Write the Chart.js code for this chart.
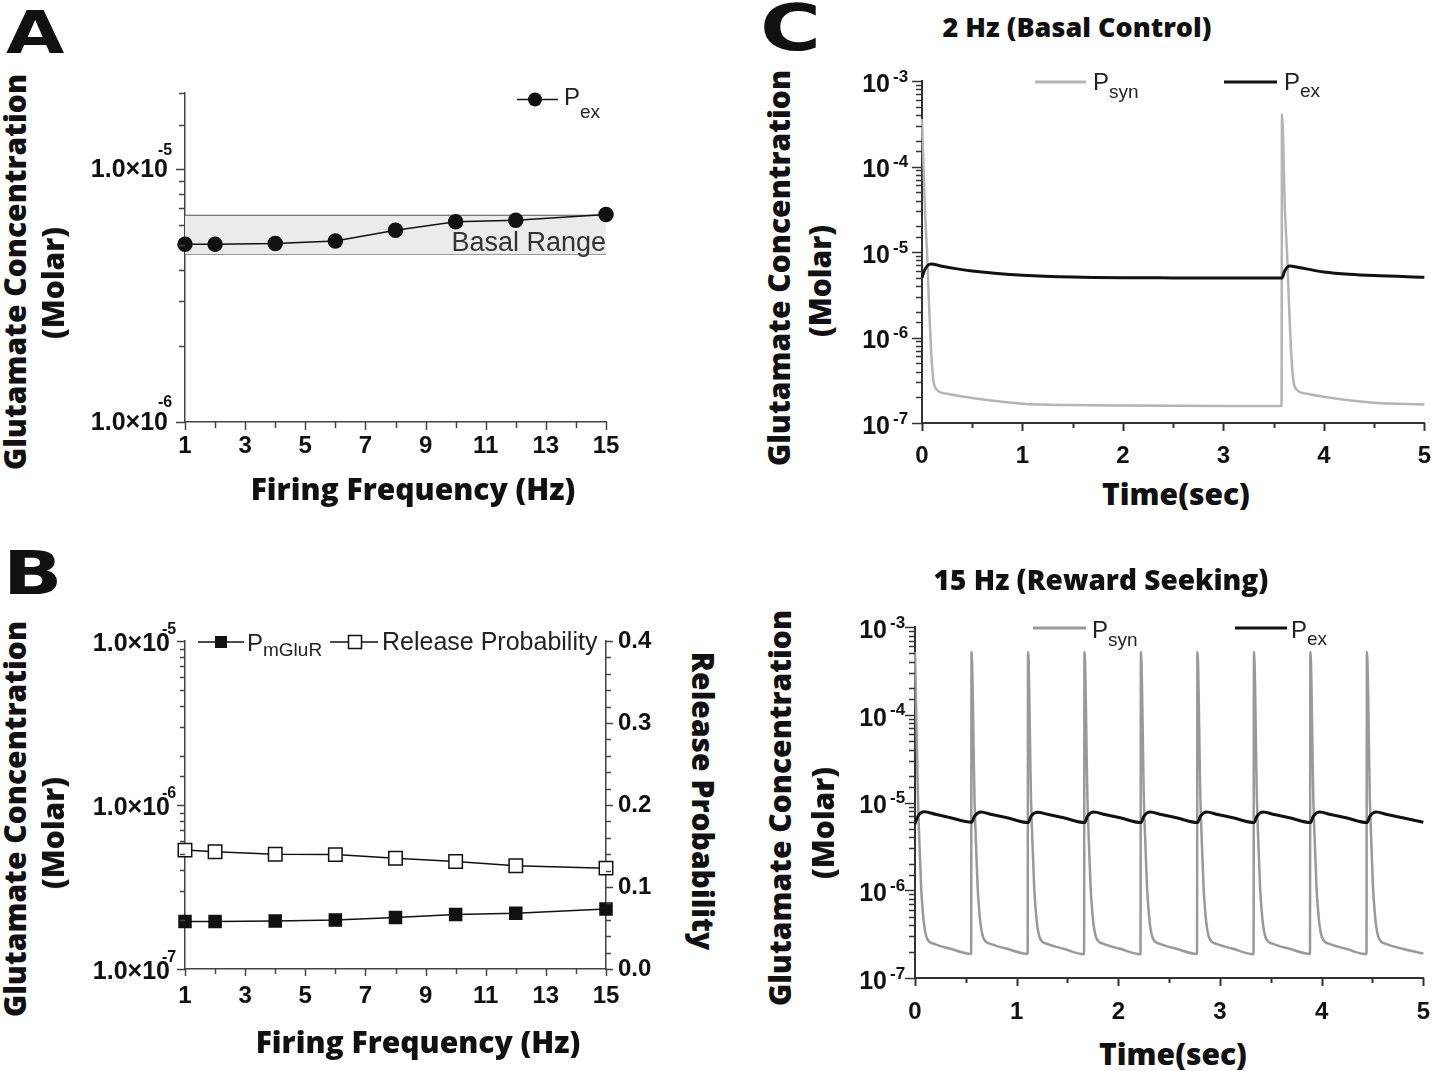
<!DOCTYPE html>
<html>
<head>
<meta charset="utf-8">
<title>Glutamate concentration panels</title>
<script src="https://cdn.jsdelivr.net/npm/chart.js@4.4.1/dist/chart.umd.min.js"></script>
<style>
  body { margin: 0; background: #fff; }
  #page { position: relative; width: 1450px; height: 1071px; overflow: hidden; background: #fff; color: #111; font-family: "Open Sans", sans-serif; }
  canvas { position: absolute; }
  .t { position: absolute; white-space: nowrap; line-height: 1; font-weight: 800; }
  .hc { transform: translateX(-50%); }
  .vl { transform: translate(-50%, -50%) rotate(-90deg); }
  .vr { transform: translate(-50%, -50%) rotate(90deg); }
  .letter { position: absolute; line-height: 1; font-family: "DejaVu Sans", sans-serif; font-weight: 700; transform: scaleX(1.3); transform-origin: left top; }
  .lg { position: absolute; white-space: nowrap; line-height: 1; font-family: "Liberation Sans", Arial, sans-serif; color: #222; }
  .lg sub { line-height: 1; }
  svg { position: absolute; overflow: visible; }
</style>
</head>
<body>
<div id="page">
  <canvas id="chartA" width="580" height="420" style="left:60px;top:60px;width:580px;height:420px"></canvas>
  <canvas id="chartB" width="620" height="420" style="left:60px;top:610px;width:620px;height:420px"></canvas>
  <canvas id="chartC1" width="610" height="420" style="left:840px;top:50px;width:610px;height:420px"></canvas>
  <canvas id="chartC2" width="610" height="430" style="left:840px;top:595px;width:610px;height:430px"></canvas>

  <!-- panel letters -->
  <div class="letter" style="left:6px;top:4px;font-size:58px">A</div>
  <div class="letter" style="left:3px;top:543px;font-size:60px">B</div>
  <div class="letter" style="left:760px;top:-4px;font-size:64px">C</div>

  <!-- titles -->
  <div class="t hc" style="left:1077px;top:13px;font-size:27px">2 Hz (Basal Control)</div>
  <div class="t hc" style="left:1101px;top:565px;font-size:28px">15 Hz (Reward Seeking)</div>

  <!-- axis titles -->
  <div class="t hc" style="left:413px;top:474px;font-size:30px">Firing Frequency (Hz)</div>
  <div class="t hc" style="left:418px;top:1027px;font-size:30px">Firing Frequency (Hz)</div>
  <div class="t hc" style="left:1176px;top:479px;font-size:30px">Time(sec)</div>
  <div class="t hc" style="left:1173px;top:1039px;font-size:30px">Time(sec)</div>

  <div class="t vl" style="left:15px;top:272px;font-size:30px">Glutamate Concentration</div>
  <div class="t vl" style="left:53px;top:283px;font-size:30px">(Molar)</div>
  <div class="t vl" style="left:15px;top:819px;font-size:30px">Glutamate Concentration</div>
  <div class="t vl" style="left:53px;top:833px;font-size:30px">(Molar)</div>
  <div class="t vr" style="left:703px;top:801px;font-size:30px">Release Probability</div>
  <div class="t vl" style="left:779px;top:268px;font-size:30px">Glutamate Concentration</div>
  <div class="t vl" style="left:820px;top:281px;font-size:30px">(Molar)</div>
  <div class="t vl" style="left:780px;top:808px;font-size:30px">Glutamate Concentration</div>
  <div class="t vl" style="left:823px;top:823px;font-size:30px">(Molar)</div>

  <!-- panel A legend and band label -->
  <svg style="left:512px;top:90px" width="50" height="20">
    <line x1="5" y1="9.5" x2="46" y2="9.5" stroke="#111" stroke-width="1.5"/>
    <circle cx="23" cy="9.5" r="7" fill="#111"/>
  </svg>
  <div class="lg" style="left:564px;top:85px;font-size:24px">P<sub style="font-size:19px;vertical-align:-13px">ex</sub></div>
  <div class="lg" style="left:606px;top:229px;font-size:27px;color:#333;transform:translateX(-100%)">Basal Range</div>

  <!-- panel B legend -->
  <svg style="left:195px;top:632px" width="190" height="20">
    <line x1="3" y1="10" x2="49" y2="10" stroke="#111" stroke-width="1.5"/>
    <rect x="20" y="4" width="12" height="12" fill="#111"/>
    <line x1="135" y1="10" x2="183" y2="10" stroke="#111" stroke-width="1.5"/>
    <rect x="153.5" y="3.5" width="13" height="13" fill="#fff" stroke="#111" stroke-width="1.5"/>
  </svg>
  <div class="lg" style="left:247px;top:631px;font-size:24px">P<sub style="font-size:19px;vertical-align:-5px">mGluR</sub></div>
  <div class="lg" style="left:382px;top:629px;font-size:25px">Release Probability</div>

  <!-- panel C legends -->
  <svg style="left:1030px;top:72px" width="260" height="20">
    <line x1="5" y1="10" x2="56" y2="10" stroke="#b4b4b4" stroke-width="3"/>
    <line x1="194" y1="10" x2="247" y2="10" stroke="#111" stroke-width="3"/>
  </svg>
  <div class="lg" style="left:1093px;top:70px;font-size:24px">P<sub style="font-size:19px;vertical-align:-8px">syn</sub></div>
  <div class="lg" style="left:1284px;top:70px;font-size:24px">P<sub style="font-size:19px;vertical-align:-7px">ex</sub></div>

  <svg style="left:1030px;top:618px" width="260" height="20">
    <line x1="3" y1="10" x2="56" y2="10" stroke="#999" stroke-width="3"/>
    <line x1="205" y1="10" x2="257" y2="10" stroke="#111" stroke-width="3"/>
  </svg>
  <div class="lg" style="left:1092px;top:618px;font-size:24px">P<sub style="font-size:19px;vertical-align:-8px">syn</sub></div>
  <div class="lg" style="left:1291px;top:618px;font-size:24px">P<sub style="font-size:19px;vertical-align:-7px">ex</sub></div>
</div>

<script>
// ---- Panel A: P_ex vs firing frequency ----
const freqA = [1, 2, 4, 6, 8, 10, 12, 15];
const pexA = [5.05e-6, 5.05e-6, 5.08e-6, 5.2e-6, 5.73e-6, 6.19e-6, 6.28e-6, 6.61e-6];
const basalX = [1, 15];
const basalLow = [4.61e-6, 4.61e-6];
const basalHigh = [6.57e-6, 6.57e-6];

// ---- Panel B: P_mGluR and release probability ----
const freqB = [1, 2, 4, 6, 8, 10, 12, 15];
const pmglurB = [1.95e-7, 1.95e-7, 1.96e-7, 1.99e-7, 2.06e-7, 2.15e-7, 2.19e-7, 2.32e-7];
const releaseB = [0.145, 0.143, 0.140, 0.1395, 0.135, 0.131, 0.126, 0.123];

// ---- Panel C top: 2 Hz traces ----
const synTopT = [0, 0.03, 0.05, 0.068, 0.09, 0.113, 0.14, 0.25, 0.5, 1.0, 1.5, 2.0, 3.0, 3.579,
  3.583, 3.613, 3.633, 3.651, 3.673, 3.696, 3.723, 3.833, 4.083, 4.5, 5.0];
const synTop = [3.6e-4, 3.0e-5, 1.0e-5, 2.8e-6, 7.2e-7, 3.2e-7, 2.5e-7, 2.2e-7, 1.96e-7, 1.68e-7, 1.62e-7, 1.6e-7, 1.58e-7, 1.58e-7,
  4.1e-4, 3.0e-5, 1.0e-5, 2.8e-6, 7.2e-7, 3.2e-7, 2.5e-7, 2.2e-7, 1.96e-7, 1.72e-7, 1.65e-7];
const exTopT = [0, 0.03, 0.09, 0.2, 0.35, 0.5, 0.75, 1.0, 1.5, 2.0, 2.5, 3.0, 3.583,
  3.61, 3.66, 3.75, 3.9, 4.0, 4.25, 4.5, 5.0];
const exTop = [5.0e-6, 6.3e-6, 7.25e-6, 6.8e-6, 6.35e-6, 6.0e-6, 5.6e-6, 5.35e-6, 5.1e-6, 5.0e-6, 4.98e-6, 4.97e-6, 4.97e-6,
  6.0e-6, 6.85e-6, 6.6e-6, 6.1e-6, 5.85e-6, 5.5e-6, 5.3e-6, 5.08e-6];

// ---- Panel C bottom: 15 Hz traces ----
const synBotT = [
  0, 0.03, 0.04, 0.06, 0.075, 0.09, 0.11, 0.14, 0.2, 0.35, 0.552,
  0.556, 0.586, 0.596, 0.616, 0.631, 0.646, 0.666, 0.696, 0.756, 0.906, 1.108,
  1.112, 1.142, 1.152, 1.172, 1.187, 1.202, 1.222, 1.252, 1.312, 1.462, 1.663,
  1.667, 1.697, 1.707, 1.727, 1.742, 1.757, 1.777, 1.807, 1.867, 2.017, 2.218,
  2.222, 2.252, 2.262, 2.282, 2.297, 2.312, 2.332, 2.362, 2.422, 2.572, 2.774,
  2.778, 2.808, 2.818, 2.838, 2.853, 2.868, 2.888, 2.918, 2.978, 3.128, 3.33,
  3.334, 3.364, 3.374, 3.394, 3.409, 3.424, 3.444, 3.474, 3.534, 3.684, 3.885,
  3.889, 3.919, 3.929, 3.949, 3.964, 3.979, 3.999, 4.029, 4.089, 4.239, 4.441,
  4.445, 4.475, 4.485, 4.505, 4.52, 4.535, 4.555, 4.585, 4.645, 4.795, 5.0
];
const synBot = [
  5.2e-4, 1.0e-5, 4.5e-6, 1.1e-6, 6.0e-7, 4.0e-7, 3.0e-7, 2.6e-7, 2.42e-7, 2.15e-7, 1.88e-7,
  5.2e-4, 1.0e-5, 4.5e-6, 1.1e-6, 6.0e-7, 4.0e-7, 3.0e-7, 2.6e-7, 2.42e-7, 2.15e-7, 1.88e-7,
  5.2e-4, 1.0e-5, 4.5e-6, 1.1e-6, 6.0e-7, 4.0e-7, 3.0e-7, 2.6e-7, 2.42e-7, 2.15e-7, 1.87e-7,
  5.2e-4, 1.0e-5, 4.5e-6, 1.1e-6, 6.0e-7, 4.0e-7, 3.0e-7, 2.6e-7, 2.42e-7, 2.15e-7, 1.87e-7,
  5.2e-4, 1.0e-5, 4.5e-6, 1.1e-6, 6.0e-7, 4.0e-7, 3.0e-7, 2.6e-7, 2.42e-7, 2.15e-7, 1.88e-7,
  5.2e-4, 1.0e-5, 4.5e-6, 1.1e-6, 6.0e-7, 4.0e-7, 3.0e-7, 2.6e-7, 2.42e-7, 2.15e-7, 1.87e-7,
  5.2e-4, 1.0e-5, 4.5e-6, 1.1e-6, 6.0e-7, 4.0e-7, 3.0e-7, 2.6e-7, 2.42e-7, 2.15e-7, 1.88e-7,
  5.2e-4, 1.0e-5, 4.5e-6, 1.1e-6, 6.0e-7, 4.0e-7, 3.0e-7, 2.6e-7, 2.42e-7, 2.15e-7, 1.87e-7,
  5.2e-4, 1.0e-5, 4.5e-6, 1.1e-6, 6.0e-7, 4.0e-7, 3.0e-7, 2.6e-7, 2.42e-7, 2.15e-7, 1.9e-7
];
const exBotT = [
  0, 0.03, 0.09, 0.2, 0.35,
  0.556, 0.586, 0.646, 0.756, 0.906,
  1.112, 1.142, 1.202, 1.312, 1.462,
  1.667, 1.697, 1.757, 1.867, 2.017,
  2.222, 2.252, 2.312, 2.422, 2.572,
  2.778, 2.808, 2.868, 2.978, 3.128,
  3.334, 3.364, 3.424, 3.534, 3.684,
  3.889, 3.919, 3.979, 4.089, 4.239,
  4.445, 4.475, 4.535, 4.645, 4.795, 5.0
];
const exBot = [
  5.7e-6, 7.0e-6, 7.85e-6, 7.35e-6, 6.7e-6,
  5.95e-6, 7.0e-6, 7.8e-6, 7.3e-6, 6.7e-6,
  5.9e-6, 7.0e-6, 7.75e-6, 7.3e-6, 6.7e-6,
  5.9e-6, 7.0e-6, 7.8e-6, 7.3e-6, 6.7e-6,
  5.9e-6, 7.0e-6, 7.8e-6, 7.3e-6, 6.7e-6,
  5.9e-6, 7.0e-6, 7.8e-6, 7.3e-6, 6.7e-6,
  5.9e-6, 7.0e-6, 7.8e-6, 7.3e-6, 6.7e-6,
  5.9e-6, 7.0e-6, 7.8e-6, 7.3e-6, 6.7e-6,
  5.9e-6, 7.0e-6, 7.8e-6, 7.3e-6, 6.7e-6, 5.95e-6
];

// tick labels
const freqLabels = [1, 3, 5, 7, 9, 11, 13, 15];
const timeLabels = [0, 1, 2, 3, 4, 5];
const releaseLabels = [0, 0.1, 0.2, 0.3, 0.4];
const logLabelsA = [1e-6, 1e-5];
const logLabelsB = [1e-7, 1e-6, 1e-5];
const logLabelsC = [1e-7, 1e-6, 1e-5, 1e-4, 1e-3];

const pts = (xs, ys) => xs.map((x, i) => ({ x: x, y: ys[i] }));
const near = (list, v) => list.some(l => Math.abs(l - v) < 1e-6);
const isPow10 = v => Math.abs(Math.log10(v) - Math.round(Math.log10(v))) < 1e-6;
const tickFont = { family: 'Liberation Sans', weight: 'bold', size: 24 };

// Tick marks (long/short) and log labels with superscripts
const axisMarks = {
  id: 'axisMarks',
  afterDraw(chart, args, opts) {
    const ctx = chart.ctx;
    (opts.axes || []).forEach(m => {
      const s = chart.scales[m.id];
      ctx.save();
      ctx.strokeStyle = m.color;
      ctx.lineWidth = m.width;
      s.ticks.forEach(t => {
        const len = m.major(t.value) ? m.long : m.short;
        const p = Math.round(s.getPixelForValue(t.value)) + 0.5;
        ctx.beginPath();
        if (m.side === 'left') {
          ctx.moveTo(s.right, p); ctx.lineTo(s.right - len, p);
        } else if (m.side === 'right') {
          ctx.moveTo(s.left, p); ctx.lineTo(s.left + len, p);
        } else {
          ctx.moveTo(p, s.top); ctx.lineTo(p, s.top + len);
        }
        ctx.stroke();
      });
      if (m.powers) {
        ctx.fillStyle = '#111';
        ctx.textBaseline = 'middle';
        m.powers.forEach(v => {
          const p = s.getPixelForValue(v);
          const xr = s.right - m.baseGap;
          ctx.font = m.baseFont;
          ctx.textAlign = 'right';
          ctx.fillText(m.base, xr, p + m.baseDy);
          ctx.font = m.supFont;
          ctx.textAlign = 'left';
          ctx.fillText(String(Math.round(Math.log10(v))), xr + m.supDx, p + m.supDy);
        });
      }
      ctx.restore();
    });
  }
};
Chart.register(axisMarks);

function xAxis(min, max, step, labels, height, pad, color, bw) {
  return {
    type: 'linear', position: 'bottom', min: min, max: max,
    afterFit: s => { s.height = height; },
    ticks: {
      stepSize: step, autoSkip: false, maxRotation: 0, minRotation: 0, maxTicksLimit: 100,
      padding: pad, color: '#111', font: tickFont,
      callback: v => near(labels, v) ? String(Math.round(v)) : ''
    },
    grid: { display: false, drawTicks: false },
    border: { display: true, color: color, width: bw }
  };
}

function logAxis(min, max, width, color, bw) {
  return {
    type: 'logarithmic', position: 'left', min: min, max: max,
    afterFit: s => { s.width = width; },
    ticks: { display: false, autoSkip: false },
    grid: { display: false, drawTicks: false },
    border: { display: true, color: color, width: bw }
  };
}

function baseOptions(pad, scales, axes) {
  return {
    responsive: false, animation: false, events: [],
    layout: { padding: pad, autoPadding: false },
    plugins: { legend: { display: false }, tooltip: { enabled: false }, axisMarks: { axes: axes } },
    scales: scales
  };
}

// Panel A
new Chart(document.getElementById('chartA'), {
  type: 'line',
  data: {
    datasets: [
      { data: pts(freqA, pexA), borderColor: '#111', borderWidth: 1.5, tension: 0,
        pointStyle: 'circle', pointRadius: 7, pointBackgroundColor: '#111', pointBorderColor: '#111',
        clip: false, order: 0 },
      { data: pts(basalX, basalHigh), borderColor: '#555', borderWidth: 1.2, pointRadius: 0,
        fill: '+1', backgroundColor: '#ebebeb', order: 1 },
      { data: pts(basalX, basalLow), borderColor: '#555', borderWidth: 1.2, pointRadius: 0,
        fill: false, order: 2 }
    ]
  },
  options: baseOptions({ top: 33, right: 34, left: 0, bottom: 0 }, {
    x: xAxis(1, 15, 1, freqLabels, 58, 10, '#444', 1.5),
    y: logAxis(1e-6, 2e-5, 125, '#444', 1.5)
  }, [
    { id: 'x', side: 'bottom', long: 8, short: 6, color: '#444', width: 1.5, major: v => near(freqLabels, v) },
    { id: 'y', side: 'left', long: 9, short: 6, color: '#444', width: 1.5, major: isPow10,
      powers: logLabelsA, base: '1.0×10', baseFont: 'bold 25px "Liberation Sans"', supFont: 'bold 16px "Liberation Sans"',
      baseGap: 17, supDx: -10, supDy: -19, baseDy: 1 }
  ])
});

// Panel B
new Chart(document.getElementById('chartB'), {
  type: 'line',
  data: {
    datasets: [
      { data: pts(freqB, pmglurB), yAxisID: 'y', borderColor: '#111', borderWidth: 1.5, tension: 0,
        pointStyle: 'rect', pointRadius: 8.5, pointBackgroundColor: '#111', pointBorderColor: '#111', clip: false },
      { data: pts(freqB, releaseB), yAxisID: 'y2', borderColor: '#111', borderWidth: 1.5, tension: 0,
        pointStyle: 'rect', pointRadius: 9.5, pointBackgroundColor: '#fff', pointBorderColor: '#111',
        pointBorderWidth: 1.5, clip: false }
    ]
  },
  options: baseOptions({ top: 31, right: 0, left: 0, bottom: 0 }, {
    x: xAxis(1, 15, 1, freqLabels, 61, 13, '#444', 1.5),
    y: logAxis(1e-7, 1e-5, 125, '#444', 1.5),
    y2: {
      type: 'linear', position: 'right', min: 0, max: 0.4,
      afterFit: s => { s.width = 74; },
      ticks: { stepSize: 0.02, autoSkip: false, maxTicksLimit: 100, padding: 12, color: '#111', font: tickFont,
        callback: v => near(releaseLabels, v) ? v.toFixed(1) : '' },
      grid: { display: false, drawTicks: false },
      border: { display: true, color: '#444', width: 1.5 }
    }
  }, [
    { id: 'x', side: 'bottom', long: 7, short: 5, color: '#444', width: 1.5, major: v => near(freqLabels, v) },
    { id: 'y', side: 'left', long: 8, short: 5, color: '#444', width: 1.5, major: isPow10,
      powers: logLabelsB, base: '1.0×10', baseFont: 'bold 25px "Liberation Sans"', supFont: 'bold 16px "Liberation Sans"',
      baseGap: 15, supDx: -8, supDy: -11, baseDy: 3 },
    { id: 'y2', side: 'right', long: 7, short: 5, color: '#444', width: 1.5, major: v => near(releaseLabels, v) }
  ])
});

// Panel C traces
function traceChart(id, pad, xh, xpad, yw, synT, syn, synColor, exT, ex, gap) {
  return new Chart(document.getElementById(id), {
    type: 'line',
    data: {
      datasets: [
        { data: pts(exT, ex), borderColor: '#111', borderWidth: 3, pointRadius: 0,
          cubicInterpolationMode: 'monotone', clip: false, order: 1 },
        { data: pts(synT, syn), borderColor: synColor, borderWidth: 2.5, pointRadius: 0,
          cubicInterpolationMode: 'monotone', clip: false, order: 2 }
      ]
    },
    options: baseOptions(pad, {
      x: xAxis(0, 5, 0.5, timeLabels, xh, xpad, '#333', 2),
      y: logAxis(1e-7, 1e-3, yw, '#333', 2)
    }, [
      { id: 'x', side: 'bottom', long: 8, short: 5, color: '#333', width: 2, major: v => near(timeLabels, v) },
      { id: 'y', side: 'left', long: 10, short: 6, color: '#333', width: 1.5, major: isPow10,
        powers: logLabelsC, base: '10', baseFont: 'bold 25px "Liberation Sans"', supFont: 'bold 17px "Liberation Sans"',
        baseGap: gap, supDx: 3, supDy: -4, baseDy: 4 }
    ])
  });
}

traceChart('chartC1', { top: 31, right: 14, left: 0, bottom: 0 }, 47, 19, 82,
  synTopT, synTop, '#b4b4b4', exTopT, exTop, 32);
traceChart('chartC2', { top: 32, right: 10, left: 0, bottom: 0 }, 47, 20, 75,
  synBotT, synBot, '#999999', exBotT, exBot, 28);
</script>
</body>
</html>
